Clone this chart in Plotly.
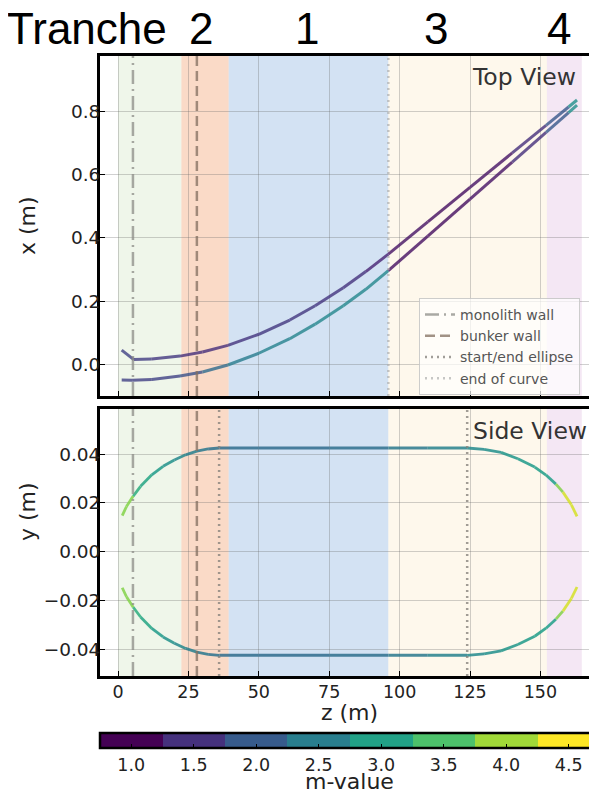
import plotly.graph_objects as go
from plotly.colors import sample_colorscale

# ---------------- data ----------------
# Top view: two curves, x (m) vs z (m), coloured by m-value
top_upper_z = [1.3, 5.6, 12, 22, 30, 39, 50, 61, 70, 80, 88, 96, 110, 125, 140, 152, 160, 163]
top_upper_x = [0.045, 0.015, 0.0167, 0.026, 0.039, 0.060, 0.095, 0.140, 0.185, 0.242, 0.293, 0.348,
               0.450, 0.559, 0.668, 0.755, 0.813, 0.835]
top_upper_m = [1.55, 1.5, 1.45, 1.35, 1.25, 1.3, 1.4, 1.4, 1.4, 1.35, 1.3, 1.0,
               0.9, 0.9, 1.0, 1.6, 2.1, 3.4]

top_lower_z = [1.3, 5, 12, 22, 30, 39, 50, 61, 70, 80, 88, 96, 96, 110, 125, 140, 152, 160, 163]
top_lower_x = [-0.0495, -0.050, -0.048, -0.037, -0.024, -0.002, 0.035, 0.081, 0.127, 0.185, 0.237,
               0.296, 0.296, 0.405, 0.522, 0.639, 0.733, 0.795, 0.819]
top_lower_m = [1.55, 1.5, 1.5, 1.6, 1.95, 2.35, 2.5, 2.55, 2.6, 2.6, 2.6, 2.6,
               0.95, 0.9, 0.9, 1.0, 1.6, 2.1, 3.4]

# Side view: two curves, y (m) vs z (m)
side_z = [1.5, 3, 5.4, 5.4, 8, 12, 16, 20, 24, 28, 32, 36, 50, 75, 96, 110, 124,
          130, 136, 142, 148, 152, 155.5, 155.5, 158, 158, 161, 163]
side_upper_y = [0.0148, 0.0185, 0.0228, 0.0228, 0.0268, 0.0315, 0.0350, 0.0376, 0.0397, 0.0412,
                0.0421, 0.0425, 0.0425, 0.0425, 0.0425, 0.0425, 0.0425,
                0.0419, 0.0407, 0.0381, 0.0347, 0.0314, 0.0277, 0.0277, 0.0244, 0.0244, 0.0192, 0.0145]
side_lower_y = [-0.0148, -0.0185, -0.0228, -0.0228, -0.0268, -0.0315, -0.0350, -0.0376, -0.0397, -0.0412,
                -0.0421, -0.0425, -0.0425, -0.0425, -0.0425, -0.0425, -0.0425,
                -0.0419, -0.0407, -0.0381, -0.0347, -0.0314, -0.0277, -0.0277, -0.0244, -0.0244, -0.0192, -0.0145]
side_m = [4.0, 4.0, 4.0, 3.3, 3.2, 3.0, 2.85, 2.7, 2.55, 2.4, 2.3, 2.2, 2.15, 2.15, 2.25, 2.45, 2.6,
          2.7, 2.8, 2.9, 2.95, 3.0, 3.0, 4.0, 4.0, 4.5, 4.5, 4.5]

# Tranche bands (z edges) and labels
tranche_edges = [0, 22.5, 39.3, 96, 152.3, 164.7]
tranche_colors = ["rgba(190,220,170,0.25)", "rgba(240,140,80,0.32)", "rgba(110,160,215,0.30)",
                  "rgba(250,225,170,0.22)", "rgba(210,160,210,0.25)"]
tranche_names = ["2", "1", "3", "4"]
tranche_label_px = [201, 307, 436, 559]

# Reference lines (z positions)
monolith_z = [5.3]
bunker_z = [28.0]
ellipse_z = [35.9, 124.0]
curve_end_z = [96.0]

# Colour bar
m_ticks = [1.0, 1.5, 2.0, 2.5, 3.0, 3.5, 4.0, 4.5]
m_lo, m_hi = 0.75, 4.75

# ---------------- layout geometry ----------------
OFF = 8                      # page offset of the figure inside the html body
W, H = 597 - OFF, 794 - OFF  # figure size


def PX(p):
    return (p - OFF) / W


def PY(p):
    return 1 - (p - OFF) / H


X0 = PX(100)
Z_RANGE = [-6.4, 170.1]
TOP_RANGE = [-0.1, 0.974]
BOT_RANGE = [-0.051, 0.0585]
TOP_DOM = [PY(396), PY(56)]
BOT_DOM = [PY(676), PY(409)]

FONT = "DejaVu Sans"
TICK_FONT = dict(family=FONT, size=17.5, color="#222")
YTICK_FONT = dict(family=FONT, size=18.5, color="#222")
LABEL_FONT = dict(family=FONT, size=22, color="#222")


def vcolor(m):
    return sample_colorscale("Viridis", [(m - m_lo) / (m_hi - m_lo)])[0]


fig = go.Figure()


def add_colored(zs, vs, ms, xa, ya, width, op):
    for i in range(len(zs) - 1):
        if zs[i] == zs[i + 1] and vs[i] == vs[i + 1]:
            continue
        m = 0.5 * (ms[i] + ms[i + 1])
        fig.add_trace(go.Scatter(
            x=[zs[i], zs[i + 1]], y=[vs[i], vs[i + 1]], mode="lines",
            line=dict(color=vcolor(m), width=width), opacity=op,
            showlegend=False, hoverinfo="skip", xaxis=xa, yaxis=ya))


add_colored(top_upper_z, top_upper_x, top_upper_m, "x", "y", 3, 0.8)
add_colored(top_lower_z, top_lower_x, top_lower_m, "x", "y", 3, 0.8)
add_colored(side_z, side_upper_y, side_m, "x2", "y2", 2.8, 0.85)
add_colored(side_z, side_lower_y, side_m, "x2", "y2", 2.8, 0.85)

# reference vertical lines
line_styles = {
    "monolith wall": dict(color="rgba(140,140,135,0.75)", width=2.5, dash="14px,5px,2px,5px"),
    "bunker wall": dict(color="rgba(130,110,95,0.75)", width=2.5, dash="10px,5px"),
    "start/end ellipse": dict(color="rgba(130,125,120,0.75)", width=2.5, dash="2px,4px"),
    "end of curve": dict(color="rgba(175,175,175,0.7)", width=2.5, dash="2px,4px"),
}
ranks = {"monolith wall": 1, "bunker wall": 2, "start/end ellipse": 3, "end of curve": 4}


def vlines(zlist, name, xa, ya, rng, legend):
    for k, z in enumerate(zlist):
        fig.add_trace(go.Scatter(
            x=[z, z], y=rng, mode="lines", line=line_styles[name], name=name,
            showlegend=legend and k == 0, legendrank=ranks[name],
            hoverinfo="skip", xaxis=xa, yaxis=ya))


vlines(monolith_z, "monolith wall", "x", "y", TOP_RANGE, True)
vlines(bunker_z, "bunker wall", "x", "y", TOP_RANGE, True)
vlines(curve_end_z, "end of curve", "x", "y", TOP_RANGE, True)
vlines(monolith_z, "monolith wall", "x2", "y2", BOT_RANGE, False)
vlines(bunker_z, "bunker wall", "x2", "y2", BOT_RANGE, False)
vlines(ellipse_z, "start/end ellipse", "x2", "y2", BOT_RANGE, True)

# colour bar (dummy trace); the bar runs from page x=100 to the right edge
bar_px = 597 - 100
cmax = m_lo + (m_hi - m_lo) * (bar_px / 500)
vir = sample_colorscale("Viridis", [i / 7 for i in range(8)])
cscale = []
for i, c in enumerate(vir):
    lo = (0.5 * i) / (cmax - m_lo)
    hi = min(1.0, (0.5 * (i + 1)) / (cmax - m_lo))
    cscale.append([min(lo, 1.0), c])
    cscale.append([hi, c])
fig.add_trace(go.Scatter(
    x=[None], y=[None], mode="markers", showlegend=False, xaxis="x2", yaxis="y2",
    marker=dict(color=[1.0], cmin=m_lo, cmax=cmax, colorscale=cscale, showscale=True,
                colorbar=dict(orientation="h", x=X0, xanchor="left", y=PY(733), yanchor="top",
                              len=bar_px, lenmode="pixels", thickness=15, xpad=0, ypad=0,
                              outlinewidth=2.5, outlinecolor="black",
                              ticks="inside", ticklen=5, tickcolor="black",
                              tickvals=m_ticks, ticktext=[f"{v:.1f}" for v in m_ticks],
                              tickfont=TICK_FONT))))

# bands
shapes = []
for i in range(len(tranche_edges) - 1):
    for xr, yr in [("x", "y domain"), ("x2", "y2 domain")]:
        shapes.append(dict(type="rect", xref=xr, yref=yr,
                           x0=tranche_edges[i], x1=tranche_edges[i + 1], y0=0, y1=1,
                           fillcolor=tranche_colors[i], line=dict(width=0), layer="below"))

axis_common = dict(showline=True, linewidth=2.8, linecolor="black", ticks="inside", ticklen=5,
                   tickwidth=1.2, tickcolor="black", showgrid=True,
                   gridcolor="rgba(100,100,100,0.3)", gridwidth=1, zeroline=False,
                   automargin=False)

fig.update_layout(
    width=W, height=H, margin=dict(l=0, r=0, t=0, b=0, autoexpand=False),
    paper_bgcolor="white", plot_bgcolor="white",
    shapes=shapes,
    xaxis=dict(domain=[X0, 1], anchor="y", range=Z_RANGE, tickvals=[0, 25, 50, 75, 100, 125, 150],
               showticklabels=False, mirror=True, tickfont=TICK_FONT, **axis_common),
    yaxis=dict(domain=TOP_DOM, anchor="x", range=TOP_RANGE, tickvals=[0, 0.2, 0.4, 0.6, 0.8],
               tickformat=".1f", ticklabelstandoff=-7, tickfont=YTICK_FONT, **axis_common),
    xaxis2=dict(domain=[X0, 1], anchor="y2", range=Z_RANGE, matches="x",
                tickvals=[0, 25, 50, 75, 100, 125, 150], mirror=True, ticklabelstandoff=-2,
                tickfont=TICK_FONT, **axis_common),
    yaxis2=dict(domain=BOT_DOM, anchor="x2", range=BOT_RANGE,
                tickvals=[-0.04, -0.02, 0, 0.02, 0.04], tickformat=".2f", ticklabelstandoff=-7,
                tickfont=YTICK_FONT, **axis_common),
    legend=dict(x=PX(419), y=PY(298), xanchor="left", yanchor="top",
                bgcolor="rgba(255,255,255,0.7)", bordercolor="rgba(200,200,200,0.9)", borderwidth=1,
                font=dict(family=FONT, size=14, color="#555"), tracegroupgap=0, itemwidth=30),
    showlegend=True,
)

TR_FONT = dict(family="Liberation Sans", size=44, color="black")
ann = []
ann.append(dict(text="Tranche", x=PX(5), y=PY(28), xref="paper", yref="paper", xanchor="left",
                yanchor="middle", showarrow=False, font=TR_FONT))
for name, px in zip(tranche_names, tranche_label_px):
    ann.append(dict(text=name, x=PX(px), y=PY(28), xref="paper", yref="paper", xanchor="center",
                    yanchor="middle", showarrow=False, font=TR_FONT))
ann.append(dict(text="Top View", x=PX(578), y=PY(77), xref="paper", yref="paper", xanchor="right",
                yanchor="middle", showarrow=False, font=dict(family=FONT, size=23.5, color="#333")))
ann.append(dict(text="Side View", x=PX(589), y=PY(431), xref="paper", yref="paper", xanchor="right",
                yanchor="middle", showarrow=False, font=dict(family=FONT, size=23.5, color="#333")))
ann.append(dict(text="x (m)", x=PX(28), y=PY(226), xref="paper", yref="paper", textangle=-90,
                xanchor="center", yanchor="middle", showarrow=False, font=LABEL_FONT))
ann.append(dict(text="y (m)", x=PX(28), y=PY(512), xref="paper", yref="paper", textangle=-90,
                xanchor="center", yanchor="middle", showarrow=False, font=LABEL_FONT))
ann.append(dict(text="z (m)", x=PX(349), y=PY(712), xref="paper", yref="paper",
                xanchor="center", yanchor="middle", showarrow=False, font=LABEL_FONT))
ann.append(dict(text="m-value", x=PX(349), y=PY(781), xref="paper", yref="paper",
                xanchor="center", yanchor="middle", showarrow=False, font=LABEL_FONT))
fig.update_layout(annotations=ann)

fig.write_html("out.html")
